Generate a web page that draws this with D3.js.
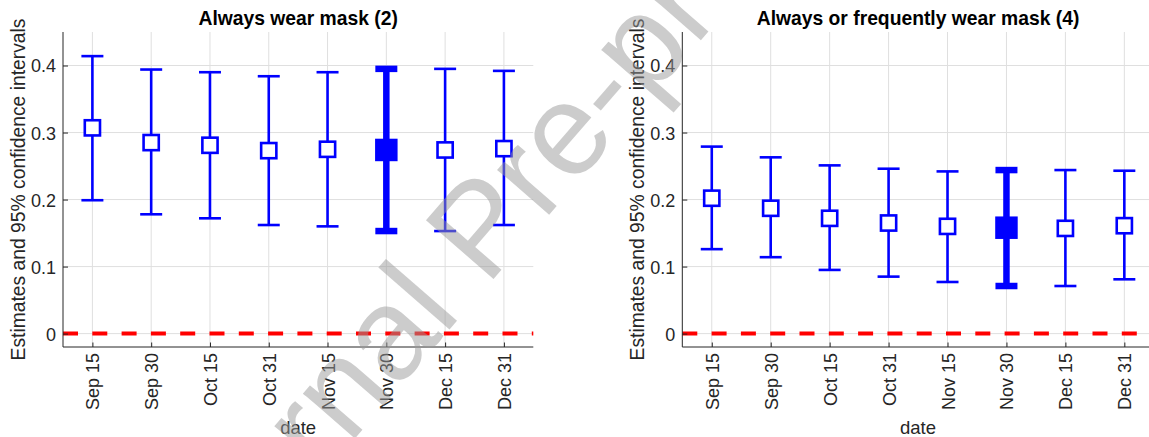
<!DOCTYPE html>
<html>
<head>
<meta charset="utf-8">
<script src="https://cdn.jsdelivr.net/npm/d3@7/dist/d3.min.js"></script>
<style>
  html, body { margin: 0; padding: 0; background: #fff; }
  svg { display: block; font-family: "Liberation Sans", Arial, Helvetica, sans-serif; }
</style>
</head>
<body>
<svg id="chart" width="1149" height="437"></svg>
<script>
// Survey dates (x categories)
const dates = ["Sep 15", "Sep 30", "Oct 15", "Oct 31", "Nov 15", "Nov 30", "Dec 15", "Dec 31"];

// Panel 1: always wear mask (2)
const alwaysEst = [0.307, 0.285, 0.281, 0.273, 0.275, 0.274, 0.274, 0.276];
const alwaysLo  = [0.199, 0.178, 0.172, 0.162, 0.160, 0.153, 0.153, 0.162];
const alwaysHi  = [0.414, 0.394, 0.390, 0.384, 0.390, 0.395, 0.395, 0.392];

// Panel 2: always or frequently wear mask (4)
const freqEst = [0.202, 0.187, 0.172, 0.165, 0.160, 0.158, 0.157, 0.161];
const freqLo  = [0.126, 0.114, 0.095, 0.085, 0.077, 0.071, 0.071, 0.081];
const freqHi  = [0.279, 0.263, 0.251, 0.246, 0.242, 0.244, 0.244, 0.243];

// Emphasised survey round (drawn bold and filled)
const highlightDate = "Nov 30";

const yTicks = [0, 0.1, 0.2, 0.3, 0.4];
const yTickLabels = ["0", "0.1", "0.2", "0.3", "0.4"];
const titles = ["Always wear mask (2)", "Always or frequently wear mask (4)"];
const yLabel = "Estimates and 95% confidence intervals";
const xLabel = "date";
const watermark = "Journal Pre-proof";

const panels = [
  { title: titles[0], est: alwaysEst, lo: alwaysLo, hi: alwaysHi, left: 63, right: 533.3 },
  { title: titles[1], est: freqEst, lo: freqLo, hi: freqHi, left: 682.3, right: 1153.8 }
];

const svg = d3.select("#chart");
const plotTop = 32, plotBottom = 347;
const axisColor = "#262626";
const gridColor = "#dfdfdf";
const blue = "#0000ff";

const y = d3.scaleLinear().domain([-0.02, 0.45]).range([plotBottom, plotTop]);

panels.forEach(p => {
  const x = d3.scaleLinear().domain([0.5, dates.length + 0.5]).range([p.left, p.right]);
  const xi = i => x(i + 1);
  const g = svg.append("g");

  // grid
  g.append("g").selectAll("line").data(yTicks).join("line")
    .attr("x1", p.left).attr("x2", p.right)
    .attr("y1", d => y(d)).attr("y2", d => y(d))
    .attr("stroke", gridColor).attr("stroke-width", 1);
  g.append("g").selectAll("line").data(dates).join("line")
    .attr("x1", (d, i) => xi(i)).attr("x2", (d, i) => xi(i))
    .attr("y1", plotTop).attr("y2", plotBottom)
    .attr("stroke", gridColor).attr("stroke-width", 1);

  // zero reference line
  g.append("line")
    .attr("x1", p.left).attr("x2", p.right)
    .attr("y1", y(0)).attr("y2", y(0))
    .attr("stroke", "#ff0000").attr("stroke-width", 4)
    .attr("stroke-dasharray", "15,14.3");

  // axes
  const yAxis = d3.axisLeft(y).tickValues(yTicks).tickSize(-5).tickPadding(7)
    .tickFormat((d, i) => yTickLabels[i]);
  const ya = g.append("g").attr("transform", `translate(${p.left},0)`).call(yAxis);
  ya.attr("font-family", null).attr("font-size", null);
  ya.select(".domain").attr("d", `M0,${plotTop}V${plotBottom}`).attr("stroke", axisColor);
  ya.selectAll(".tick line").attr("stroke", axisColor);
  ya.selectAll(".tick text").attr("fill", axisColor).attr("font-size", 18)
    .attr("dy", "0.36em");

  const xAxis = d3.axisBottom(x).tickValues(d3.range(1, dates.length + 1)).tickSize(-4.5)
    .tickFormat(d => dates[d - 1]);
  const xa = g.append("g").attr("transform", `translate(0,${plotBottom})`).call(xAxis);
  xa.attr("font-family", null).attr("font-size", null);
  xa.select(".domain").attr("d", `M${p.left},0H${p.right}`).attr("stroke", axisColor);
  xa.selectAll(".tick line").attr("stroke", axisColor);
  xa.selectAll(".tick text").attr("fill", axisColor).attr("font-size", 18)
    .attr("text-anchor", "end").attr("dy", null)
    .attr("transform", "rotate(-90)")
    .attr("x", -6).attr("y", 6.5);

  // labels
  g.append("text").attr("x", (p.left + p.right) / 2).attr("y", 25)
    .attr("text-anchor", "middle").attr("font-weight", "bold").attr("font-size", 19.3)
    .attr("fill", "#000").text(p.title);
  g.append("text").attr("transform", `translate(${p.left - 38},${(plotTop + plotBottom) / 2}) rotate(-90)`)
    .attr("text-anchor", "middle").attr("font-size", 19.3).attr("fill", axisColor).text(yLabel);
  g.append("text").attr("x", (p.left + p.right) / 2).attr("y", 433.5)
    .attr("text-anchor", "middle").attr("font-size", 18.5).attr("fill", axisColor).text(xLabel);

  // error bars
  const bars = g.append("g").selectAll("g").data(dates).join("g");
  const lw = d => d === highlightDate ? 6.5 : 2.6;
  bars.append("line")
    .attr("x1", (d, i) => xi(i)).attr("x2", (d, i) => xi(i))
    .attr("y1", (d, i) => y(p.lo[i])).attr("y2", (d, i) => y(p.hi[i]))
    .attr("stroke", blue).attr("stroke-width", lw);
  ["lo", "hi"].forEach(k => {
    bars.append("line")
      .attr("x1", (d, i) => xi(i) - 11).attr("x2", (d, i) => xi(i) + 11)
      .attr("y1", (d, i) => y(p[k][i])).attr("y2", (d, i) => y(p[k][i]))
      .attr("stroke", blue).attr("stroke-width", lw);
  });
  bars.append("rect")
    .attr("x", (d, i) => xi(i) - (d === highlightDate ? 8 : 7.6))
    .attr("y", (d, i) => y(p.est[i]) - (d === highlightDate ? 8 : 7.6))
    .attr("width", d => d === highlightDate ? 16 : 15.2)
    .attr("height", d => d === highlightDate ? 16 : 15.2)
    .attr("fill", d => d === highlightDate ? blue : "#fff")
    .attr("stroke", blue).attr("stroke-width", lw);
});

// preprint watermark
svg.append("text")
  .attr("transform", "translate(183,636) rotate(-49)")
  .attr("font-size", 130).attr("fill", "#999").attr("fill-opacity", 0.5)
  .text(watermark);
</script>
</body>
</html>
